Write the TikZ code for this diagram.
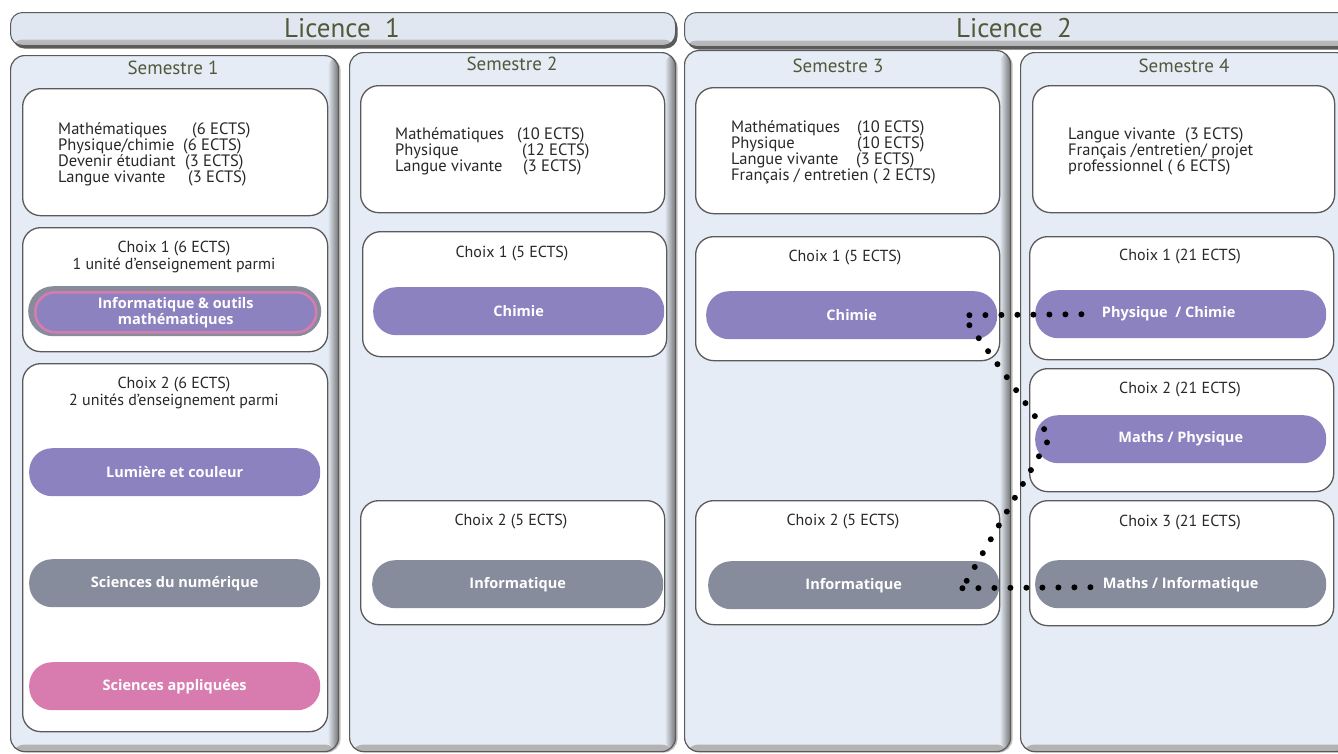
\documentclass[tikz,border=0pt]{standalone}
\usepackage{fontspec}
\setmainfont{PT Sans}
\newfontfamily\pillfont{Open Sans}
\usetikzlibrary{shadows}
\definecolor{olive}{RGB}{82,88,58}
\definecolor{panelc}{RGB}{229,236,246}
\definecolor{barc}{RGB}{224,231,240}
\definecolor{edgec}{RGB}{90,90,90}
\definecolor{purp}{RGB}{140,130,192}
\definecolor{grayp}{RGB}{135,140,156}
\definecolor{pinkp}{RGB}{216,124,176}
\definecolor{txtc}{RGB}{40,40,40}
\tikzset{
  barbox/.style={draw=edgec, line width=1pt, rounded corners=12pt, fill=barc,
    anchor=north west, inner sep=0pt, drop shadow={shadow xshift=2pt, shadow yshift=-3pt, opacity=.8, fill=black!80},
    path picture={\shade[top color=barc, bottom color=black!30] ([yshift=6pt]path picture bounding box.south west) rectangle (path picture bounding box.south east);}},
  semesterbox/.style={draw=edgec, line width=1.2pt, rounded corners=14pt, fill=panelc, anchor=north west, inner sep=0pt,
    drop shadow={shadow xshift=2pt, shadow yshift=-1pt, opacity=.5},
    path picture={
      \shade[top color=panelc, bottom color=black!30] ([yshift=7pt]path picture bounding box.south west) rectangle (path picture bounding box.south east);
      \shade[left color=panelc, right color=black!55] ([xshift=-11pt]path picture bounding box.north east) rectangle (path picture bounding box.south east);}},
  ibox/.style={draw=edgec, line width=1.3pt, fill=white, rounded corners=18pt, anchor=north west, inner sep=0pt},
  pillbox/.style={rounded corners=23pt, minimum height=48pt, minimum width=291pt, text=white, anchor=north west, inner sep=0pt,
    font=\pillfont\bfseries\fontsize{14.5}{17}\selectfont, align=center},
  bartext/.style={text=olive, font=\fontsize{27}{30}\selectfont},
  semtext/.style={text=olive, font=\fontsize{19}{21}\selectfont},
  titletext/.style={text=txtc, font=\fontsize{16}{17}\selectfont, align=center},
  linetext/.style={text=txtc, font=\fontsize{16.5}{17}\selectfont, anchor=base west, inner sep=0pt},
  dots/.style={line width=6pt, line cap=round, dash pattern=on 0pt off 16pt, black},
}
\begin{document}
\begin{tikzpicture}[x=1pt,y=-1pt]
\useasboundingbox (0,0) rectangle (1338,753);
\clip (0,0) rectangle (1338,753);
\fill[white] (0,0) rectangle (1338,753);
% Licence bars
\node[barbox, minimum width=665pt, minimum height=33pt] (l1) at (10,12) {};
\node[bartext] (l1t) at (342,28.5) {Licence\ \ 1};
\node[barbox, minimum width=670pt, minimum height=34pt] (l2) at (684,12) {};
\node[bartext] (l2t) at (1014,28.5) {Licence\ \ 2};
% semester panels
\node[semesterbox, minimum width=328pt, minimum height=696pt] (s1) at (10,55) {};
\node[semesterbox, minimum width=326pt, minimum height=699pt] (s2) at (349,52) {};
\node[semesterbox, minimum width=326pt, minimum height=701pt] (s3) at (684,50) {};
\node[semesterbox, minimum width=330pt, minimum height=699pt] (s4) at (1020,52) {};
\node[semtext] (s1t) at (173,68) {Semestre 1};
\node[semtext] (s2t) at (512,64) {Semestre 2};
\node[semtext] (s3t) at (838,66) {Semestre 3};
\node[semtext] (s4t) at (1184,66) {Semestre 4};
% ---------- Semestre 1
\node[ibox, minimum width=305pt, minimum height=127pt] (s1top) at (22,88) {};
\node[linetext] (s1a) at (58,134) {\makebox[134pt][l]{Mathématiques}(6 ECTS)};
\node[linetext] (s1b) at (58,150) {\makebox[125pt][l]{Physique/chimie}(6 ECTS)};
\node[linetext] (s1c) at (58,166) {\makebox[127pt][l]{Devenir étudiant}(3 ECTS)};
\node[linetext] (s1d) at (58,182) {\makebox[130pt][l]{Langue vivante}(3 ECTS)};
\node[ibox, minimum width=305pt, minimum height=124pt] (s1c1) at (22,227) {};
\node[titletext] (s1c1t) at (174,257) {Choix 1 (6 ECTS)\\1 unité d’enseignement parmi};
\node[pillbox, fill=grayp, minimum width=293pt, minimum height=50pt, rounded corners=25pt] (s1infoo) at (28,286) {};
\node[pillbox, fill=purp, draw=pinkp, line width=2.5pt, minimum width=281pt, minimum height=40pt, rounded corners=20pt] (s1info) at (34,291) {Informatique \& outils\\[-1pt]mathématiques};
\node[ibox, minimum width=305pt, minimum height=368pt] (s1c2) at (22,363) {};
\node[titletext] (s1c2t) at (174,393) {Choix 2 (6 ECTS)\\2 unités d’enseignement parmi};
\node[pillbox, fill=purp] (s1lum) at (29,448) {Lumière et couleur};
\node[pillbox, fill=grayp] (s1num) at (29,559) {Sciences du numérique};
\node[pillbox, fill=pinkp] (s1app) at (29,662) {Sciences appliquées};
% ---------- Semestre 2
\node[ibox, minimum width=304pt, minimum height=127pt] (s2top) at (360,85) {};
\node[linetext] (s2a) at (395,139) {\makebox[122pt][l]{Mathématiques}(10 ECTS)};
\node[linetext] (s2b) at (395,155) {\makebox[127pt][l]{Physique}(12 ECTS)};
\node[linetext] (s2c) at (395,171) {\makebox[128pt][l]{Langue vivante}(3 ECTS)};
\node[ibox, minimum width=304pt, minimum height=125pt] (s2c1) at (362,231) {};
\node[titletext] (s2c1t) at (512,254) {Choix 1 (5 ECTS)};
\node[pillbox, fill=purp] (s2chim) at (373,287) {Chimie};
\node[ibox, minimum width=304pt, minimum height=124pt] (s2c2) at (360,500) {};
\node[titletext] (s2c2t) at (511,522) {Choix 2 (5 ECTS)};
\node[pillbox, fill=grayp] (s2info) at (372,560) {Informatique};
% ---------- Semestre 3
\node[ibox, minimum width=304pt, minimum height=126pt] (s3top) at (695,87) {};
\node[linetext] (s3a) at (731,132) {\makebox[126pt][l]{Mathématiques}(10 ECTS)};
\node[linetext] (s3b) at (731,148) {\makebox[126pt][l]{Physique}(10 ECTS)};
\node[linetext] (s3c) at (731,164) {\makebox[125pt][l]{Langue vivante}(3 ECTS)};
\node[linetext] (s3d) at (731,180) {Français / entretien ( 2 ECTS)};
\node[ibox, minimum width=304pt, minimum height=124pt] (s3c1) at (695,236) {};
\node[titletext] (s3c1t) at (845,258) {Choix 1 (5 ECTS)};
\node[pillbox, fill=purp] (s3chim) at (706,291) {Chimie};
\node[ibox, minimum width=304pt, minimum height=124pt] (s3c2) at (695,500) {};
\node[titletext] (s3c2t) at (843,522) {Choix 2 (5 ECTS)};
\node[pillbox, fill=grayp] (s3info) at (708,561) {Informatique};
% ---------- Semestre 4
\node[ibox, minimum width=302pt, minimum height=127pt] (s4top) at (1032,85) {};
\node[linetext] (s4a) at (1068,139) {\makebox[117pt][l]{Langue vivante}(3 ECTS)};
\node[linetext] (s4b) at (1068,155) {Français /entretien/ projet};
\node[linetext] (s4c) at (1068,171) {professionnel ( 6 ECTS)};
\node[ibox, minimum width=304pt, minimum height=123pt] (s4c1) at (1029,236) {};
\node[titletext] (s4c1t) at (1180,257) {Choix 1 (21 ECTS)};
\node[pillbox, fill=purp] (s4pc) at (1035,290) {Physique\ \ / Chimie\hspace*{24pt}};
\node[ibox, minimum width=304pt, minimum height=123pt] (s4c2) at (1029,368) {};
\node[titletext] (s4c2t) at (1180,390) {Choix 2 (21 ECTS)};
\node[pillbox, fill=purp] (s4mp) at (1035,415) {Maths / Physique};
\node[ibox, minimum width=304pt, minimum height=125pt] (s4c3) at (1029,500) {};
\node[titletext] (s4c3t) at (1180,523) {Choix 3 (21 ECTS)};
\node[pillbox, fill=grayp] (s4mi) at (1035,560) {Maths / Informatique};
% ---------- dotted connectors
\draw[dots] ([xshift=-28pt]s3chim.east) -- ([xshift=50pt]s4pc.west);
\draw[dots] ([xshift=-28pt,yshift=-10pt]s3chim.east) -- ([xshift=15pt,yshift=2pt]s4mp.west) -- ([xshift=-37pt,yshift=-3pt]s3info.east);
\draw[dots] ([xshift=-37pt,yshift=-3pt]s3info.east) -- ([xshift=57pt,yshift=-3pt]s4mi.west);
\end{tikzpicture}
\end{document}
